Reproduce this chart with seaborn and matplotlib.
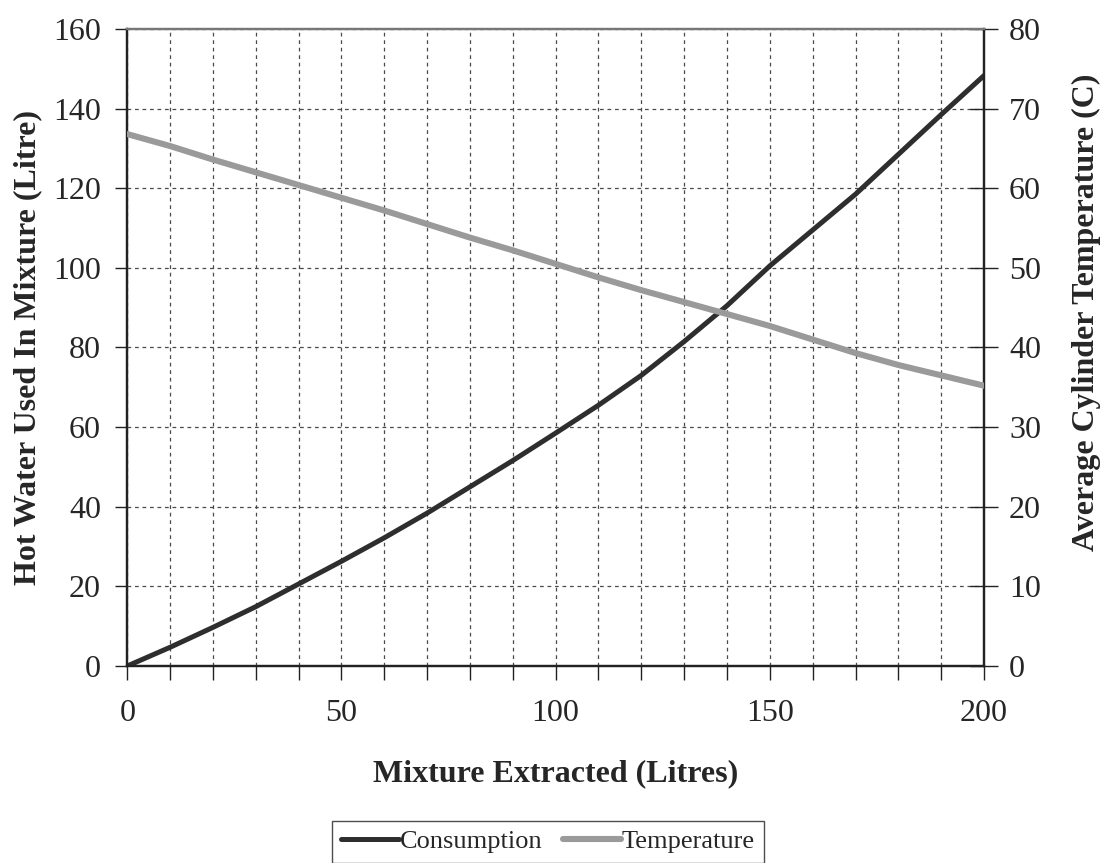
import matplotlib
matplotlib.use("Agg")
import matplotlib.pyplot as plt
import seaborn as sns
import pandas as pd
from matplotlib.lines import Line2D

# Mixture extracted (litres)
extracted = [0, 10, 20, 30, 40, 50, 60, 70, 80, 90, 100,
             110, 120, 130, 140, 150, 160, 170, 180, 190, 200]
# Hot water used in mixture (litres)
consumption = [0, 4.7, 9.7, 14.9, 20.6, 26.3, 32.2, 38.4, 45.0, 51.6, 58.5,
               65.5, 73.0, 81.5, 90.5, 100.5, 109.5, 118.5, 128.5, 138.5, 148.3]
# Average cylinder temperature (C)
temperature = [66.8, 65.3, 63.6, 62.0, 60.4, 58.8, 57.2, 55.5, 53.8, 52.2, 50.5,
               48.8, 47.2, 45.7, 44.2, 42.7, 41.0, 39.3, 37.8, 36.5, 35.2]

x_ticks = [0, 50, 100, 150, 200]
left_ticks = [0, 20, 40, 60, 80, 100, 120, 140, 160]
right_ticks = [0, 10, 20, 30, 40, 50, 60, 70, 80]

df = pd.DataFrame({"Extracted": extracted,
                   "Consumption": consumption,
                   "Temperature": temperature})

sns.set_style("white")
plt.rcParams["font.family"] = ["Liberation Serif", "DejaVu Serif"]

fig = plt.figure(figsize=(11.09, 8.63), dpi=100)
ax = fig.add_axes([0.1148, 0.2283, 0.7725, 0.7381])
ax2 = ax.twinx()

cons_color = "#2e2e2e"
temp_color = "#9a9a9a"

sns.lineplot(data=df, x="Extracted", y="Consumption", ax=ax,
             color=cons_color, linewidth=3.6, zorder=5)
sns.lineplot(data=df, x="Extracted", y="Temperature", ax=ax2,
             color=temp_color, linewidth=4.4, zorder=4)

ax.set_xlim(0, 200)
ax.set_ylim(0, 160)
ax2.set_ylim(0, 80)

# x ticks every 10, labels every 50
minor_x = list(range(0, 201, 10))
ax.set_xticks(minor_x)
ax.set_xticklabels([str(v) if v in x_ticks else "" for v in minor_x])
ax.set_yticks(left_ticks)
ax.set_yticklabels([str(v) for v in left_ticks])
ax2.set_yticks(right_ticks)
ax2.set_yticklabels([str(v) for v in right_ticks])

tick_fs = 23
ax.tick_params(axis="x", direction="out", length=10, width=1, color="#222",
               labelsize=tick_fs, pad=14, bottom=True)
ax.tick_params(axis="y", direction="out", length=9, width=1, color="#222",
               labelsize=tick_fs, pad=10, left=True)
ax2.tick_params(axis="y", direction="inout", length=20, width=1, color="#222",
                labelsize=tick_fs, pad=8, right=True)

ax.grid(True, which="major", axis="both", color="#4a4a4a",
        linestyle=(0, (3, 3)), linewidth=0.9)
ax2.grid(False)

for a in (ax, ax2):
    for side in ("left", "right", "bottom", "top"):
        a.spines[side].set_visible(True)
        a.spines[side].set_color("#222")
        a.spines[side].set_linewidth(1.6)
ax.spines["top"].set_color("#777")
ax2.spines["top"].set_color("#777")

ax.set_xlabel("Mixture Extracted (Litres)", fontsize=23, fontweight="bold",
              labelpad=22)
ax.set_ylabel("Hot Water Used In Mixture (Litre)", fontsize=23,
              fontweight="bold", labelpad=8)
ax2.set_ylabel("Average Cylinder Temperature (C)", fontsize=23,
               fontweight="bold")
ax2.yaxis.set_label_coords(1.103, 0.556)

handles = [Line2D([], [], color=cons_color, linewidth=3.6),
           Line2D([], [], color=temp_color, linewidth=4.4)]
leg = fig.legend(handles, ["Consumption", "Temperature"],
                 loc="upper center", bbox_to_anchor=(0.494, 0.049),
                 ncol=2, frameon=True, fancybox=False, fontsize=19,
                 handlelength=2.2, handletextpad=0.0, columnspacing=0.8,
                 borderpad=0.35, borderaxespad=0)
leg.get_frame().set_edgecolor("#222")
leg.get_frame().set_linewidth(1.0)

fig.savefig("out.png", dpi=100)
